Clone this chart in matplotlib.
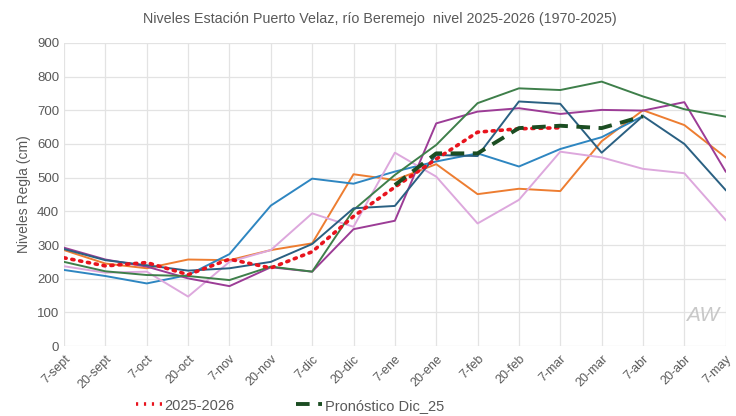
import matplotlib.pyplot as plt
from matplotlib.lines import Line2D

plt.rcParams['font.family'] = ['Liberation Sans', 'DejaVu Sans']

fechas = ['7-sept', '20-sept', '7-oct', '20-oct', '7-nov', '20-nov', '7-dic', '20-dic',
          '7-ene', '20-ene', '7-feb', '20-feb', '7-mar', '20-mar', '7-abr', '20-abr', '7-may']

# historical years (cm)
naranja = [285, 245, 231, 257, 255, 285, 305, 510, 493, 540, 451, 467, 460, 608, 700, 656, 560]
azul = [226, 208, 186, 211, 273, 417, 497, 482, 518, 548, 572, 533, 585, 620, 683]
lila = [237, 218, 221, 147, 250, 285, 394, 354, 574, 503, 364, 434, 577, 560, 526, 513, 374]
morado = [292, 257, 236, 201, 178, 234, 221, 347, 372, 661, 696, 706, 689, 701, 699, 724, 518]
verde = [250, 222, 211, 208, 196, 236, 221, 404, 508, 597, 721, 765, 760, 785, 741, 703, 681]
petroleo = [288, 255, 240, 224, 231, 250, 303, 409, 416, 567, 564, 726, 719, 574, 683, 600, 463]

actual = [262, 238, 248, 212, 258, 232, 280, 385, 472, 555, 635, 645, 648]
pronostico_x = ['7-ene', '20-ene', '7-feb', '20-feb', '7-mar', '20-mar', '7-abr']
pronostico = [478, 572, 572, 647, 654, 647, 682]

gris = '#595959'
fig = plt.figure(figsize=(7.36, 4.16), dpi=100)
ax = fig.add_axes([0.087, 0.168, 0.899, 0.729])

x = list(range(len(fechas)))
ax.plot(x[:len(naranja)], naranja, color='#ED7D31', lw=1.4)
ax.plot(x[:len(azul)], azul, color='#2E86C1', lw=1.4)
ax.plot(x[:len(lila)], lila, color='#DDA8DD', lw=1.4)
ax.plot(x[:len(morado)], morado, color='#9C3C96', lw=1.4)
ax.plot(x[:len(verde)], verde, color='#3E7F4A', lw=1.4)
ax.plot(x[:len(petroleo)], petroleo, color='#2A6082', lw=1.4)
ax.plot(x[:len(actual)], actual, color='#E8141E', lw=2.6, ls=(0, (0.6, 1.6)),
        dash_capstyle='round', zorder=5)
px = [fechas.index(f) for f in pronostico_x]
ax.plot(px, pronostico, color='#1B4D22', lw=2.8, ls=(0, (3.5, 2.2)), zorder=6)

ax.set_xlim(0, len(fechas) - 1)
ax.set_ylim(0, 900)
ax.set_yticks(range(0, 901, 100))
ax.set_xticks(x)
ax.set_xticklabels(fechas, rotation=45, ha='right', rotation_mode='anchor')
ax.tick_params(axis='both', length=0, colors=gris, labelsize=9.5)
ax.tick_params(axis='x', pad=5, labelsize=9)
ax.grid(True, color='#e3e3e3', lw=0.9)
ax.set_axisbelow(True)
for s in ax.spines.values():
    s.set_visible(False)

ax.set_ylabel('Niveles Regla (cm)', color=gris, fontsize=10)
fig.text(0.516, 0.955, 'Niveles Estación Puerto Velaz, río Beremejo  nivel 2025-2026 (1970-2025)',
         ha='center', va='center', color=gris, fontsize=10.3)

ax.text(0.965, 0.1, 'AW', transform=ax.transAxes, ha='center', va='center',
        color='#c8c8c8', fontsize=15, style='italic', fontweight='light')

handles = [Line2D([], [], color='#E8141E', lw=2.6, ls=(0, (0.6, 1.6))),
           Line2D([], [], color='#1B4D22', lw=2.8, ls=(0, (3.5, 2.2)))]
fig.legend(handles, ['2025-2026', 'Pronóstico Dic_25'], loc='center', ncol=2,
           bbox_to_anchor=(0.394, 0.025), frameon=False, fontsize=10.5,
           labelcolor=gris, columnspacing=4.2, handlelength=1.8, handletextpad=0.2)

fig.savefig('out.png', dpi=100)
